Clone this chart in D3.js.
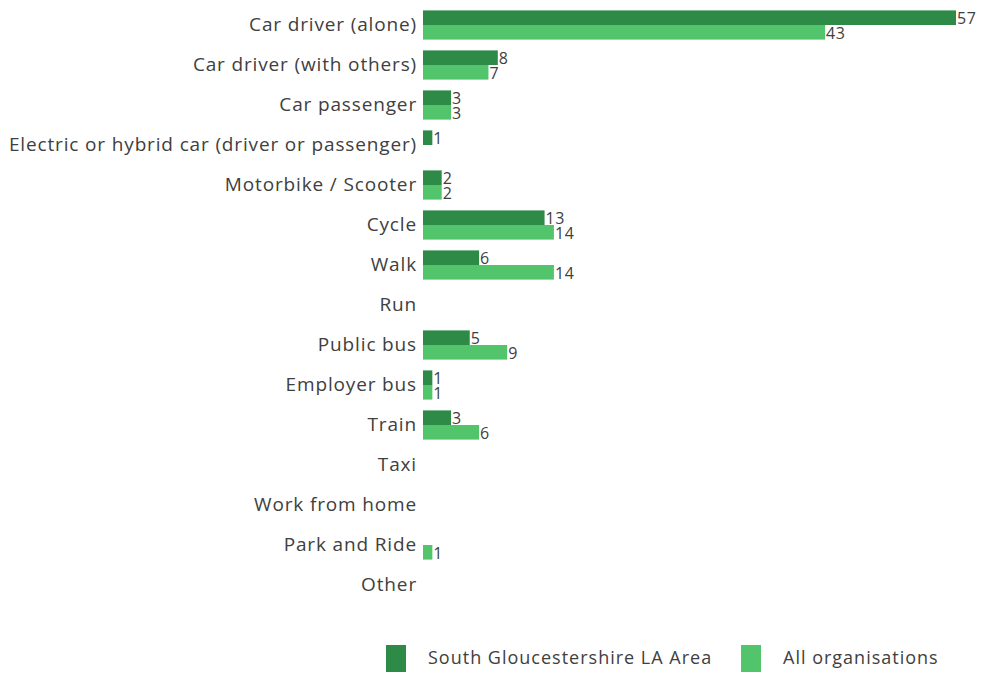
<!DOCTYPE html>
<html><head><meta charset="utf-8">
<script src="https://cdn.jsdelivr.net/npm/d3@7"></script>
<style>body{margin:0;background:#fff}svg{display:block}</style>
</head><body>
<svg id="chart" width="982" height="673"></svg>
<script>
const categories = ["Car driver (alone)","Car driver (with others)","Car passenger","Electric or hybrid car (driver or passenger)","Motorbike / Scooter","Cycle","Walk","Run","Public bus","Employer bus","Train","Taxi","Work from home","Park and Ride","Other"];
const seriesNames = ["South Gloucestershire LA Area","All organisations"];
const southGlos = [57,8,3,1,2,13,6,null,5,1,3,null,null,null,null];
const allOrgs = [43,7,3,null,2,14,14,null,9,1,6,null,null,1,null];
const colors = ["#2E8B47","#52C56C"];

const svg = d3.select("#chart");
const font = "'Open Sans', sans-serif";
const textColor = "#404040";
const x0 = 423;
const x = d3.scaleLinear().domain([0,57]).range([x0, 956]);
const y = d3.scaleBand().domain(categories).range([5,605]).paddingInner(0.27).paddingOuter(0.135);
const ySub = d3.scaleBand().domain([0,1]).range([0, y.bandwidth()]);

const series = [southGlos, allOrgs];
series.forEach((vals, si) => {
  const g = svg.append("g");
  categories.forEach((c, i) => {
    const v = vals[i];
    if (v == null) return;
    const yy = y(c) + ySub(si);
    g.append("rect").attr("x", x(0)).attr("y", yy).attr("width", x(v) - x(0)).attr("height", ySub.bandwidth()).attr("fill", colors[si]);
    g.append("text").attr("x", x(v) + 1).attr("y", yy + ySub.bandwidth()/2 + 1).attr("dy","0.35em")
      .attr("font-family", font).attr("font-size", 16).attr("letter-spacing", "0.6px").attr("fill", textColor).text(v);
  });
});

const axis = d3.axisLeft(y).tickSize(0).tickPadding(6);
const ag = svg.append("g").attr("transform", `translate(${x0},0)`).call(axis);
ag.select(".domain").remove();
ag.selectAll("text").attr("font-family", font).attr("font-size", 19).attr("letter-spacing", "0.85px").attr("fill", textColor);

const legend = svg.append("g");
const lx = [386, 741];
seriesNames.forEach((n, i) => {
  legend.append("rect").attr("x", lx[i]).attr("y", 645).attr("width", 20).attr("height", 27).attr("fill", colors[i]);
  legend.append("text").attr("x", lx[i] + 42).attr("y", 658).attr("dy","0.35em")
    .attr("font-family", font).attr("font-size", 18).attr("letter-spacing", "1px").attr("fill", textColor).text(n);
});
</script>
</body></html>
